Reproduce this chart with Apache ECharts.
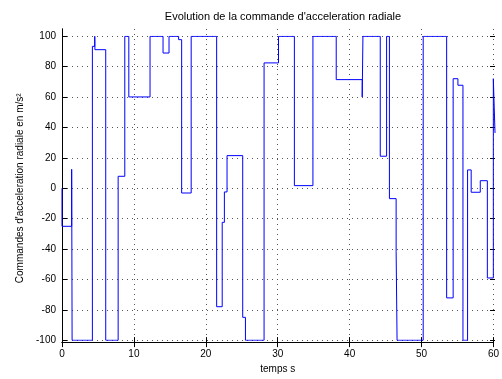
<!DOCTYPE html>
<html>
<head>
<meta charset="utf-8">
<script src="https://cdn.jsdelivr.net/npm/echarts@6/dist/echarts.min.js"></script>
<style>
	html, body { margin: 0; padding: 0; background: #fff; }
	#chart { width: 502px; height: 379px; }
</style>
</head>
<body>
<div id="chart"></div>
<script>
// instants de changement de la commande (s) et valeurs (m/s2)
var temps = [0, 0, 1.34, 1.40, 4.21, 4.54, 4.56, 6.06, 7.78, 8.70, 9.26, 12.2, 14.0, 14.83,
	16.16, 16.58, 17.9, 21.43, 22.2, 22.5, 22.87, 25.04, 25.42, 28.0, 30.0, 32.2, 34.77,
	38.0, 41.6, 41.7, 44.1, 44.98, 45.37, 46.3, 46.43, 50.05, 53.3, 54.2, 54.86, 55.56,
	56.2, 56.7, 57.96, 58.94, 59.77, 60];
var commande = [0, -25, 12.5, -100, 93.4, 100, 91.2, -100, 7.9, 100, 60.1, 100, 89, 100,
	97.8, -3.1, 100, -77.9, -22.4, -2.4, 21.5, -84.9, -100, 82.5, 100, 1.75, 100,
	71.5, 60.1, 100, 21.1, 100, -6.8, -41.4, -100, 100, -72.1, 72.1, 67.8, -100,
	12.1, -2.6, 5.0, -59, 72.1, 36.4];
var xTicks = [0, 60, 10];
var yTicks = [-100, 100, 20];

var myChart = echarts.init(document.getElementById('chart'));
var police = 'Liberation Sans, Arial, sans-serif';
var grille = { show: true, lineStyle: { color: '#555', width: 1, type: [1, 4] } };
var points = temps.map(function(t, i) { return [t, commande[i]]; });

var option = {
	animation: false,
	textStyle: { fontFamily: police },
	title: {
		text: "Evolution de la commande d'acceleration radiale",
		left: 278, top: 6, textAlign: 'center',
		textStyle: { fontSize: 11, fontWeight: 'normal', color: '#000', fontFamily: police }
	},
	grid: [
		{ left: 62, right: 7, top: 29, bottom: 32 },      // cadre
		{ left: 62, right: 7, top: 36.3, bottom: 38.7 }   // donnees
	],
	xAxis: [
		{
			gridIndex: 0, type: 'value', position: 'bottom',
			min: xTicks[0], max: xTicks[1], interval: xTicks[2],
			axisLine: { lineStyle: { color: '#000' } },
			axisTick: { inside: true, length: 5, lineStyle: { color: '#000' } },
			axisLabel: { color: '#000', fontSize: 10, margin: 7, fontFamily: police },
			splitLine: grille,
			name: 'temps s', nameLocation: 'middle', nameGap: 20,
			nameTextStyle: { color: '#000', fontSize: 10, fontFamily: police }
		},
		{
			gridIndex: 0, type: 'value', position: 'top',
			min: xTicks[0], max: xTicks[1], interval: xTicks[2],
			axisLine: { lineStyle: { color: '#000' } },
			axisTick: { inside: true, length: 5, lineStyle: { color: '#000' } },
			axisLabel: { show: false },
			splitLine: { show: false }
		},
		{
			gridIndex: 1, type: 'value', min: xTicks[0], max: xTicks[1], show: false
		}
	],
	yAxis: [
		{
			gridIndex: 0, type: 'value', position: 'left', min: 0, max: 1,
			axisLine: { show: true, lineStyle: { color: '#000' } },
			axisTick: { show: false }, axisLabel: { show: false }, splitLine: { show: false }
		},
		{
			gridIndex: 0, type: 'value', position: 'right', min: 0, max: 1,
			axisLine: { show: true, lineStyle: { color: '#000' } },
			axisTick: { show: false }, axisLabel: { show: false }, splitLine: { show: false }
		},
		{
			gridIndex: 1, type: 'value', position: 'left',
			min: yTicks[0], max: yTicks[1], interval: yTicks[2],
			axisLine: { show: false },
			axisTick: { show: true, inside: true, length: 5, lineStyle: { color: '#000' } },
			axisLabel: { color: '#000', fontSize: 10, margin: 6, fontFamily: police },
			splitLine: grille,
			name: "Commandes d'acceleration radiale en m/s\u00b2",
			nameLocation: 'middle', nameGap: 37,
			nameTextStyle: { color: '#000', fontSize: 10, fontFamily: police }
		},
		{
			gridIndex: 1, type: 'value', position: 'right',
			min: yTicks[0], max: yTicks[1], interval: yTicks[2],
			axisLine: { show: false },
			axisTick: { show: true, inside: true, length: 5, lineStyle: { color: '#000' } },
			axisLabel: { show: false },
			splitLine: { show: false }
		}
	],
	series: [
		{
			type: 'line', xAxisIndex: 2, yAxisIndex: 2,
			step: 'end', showSymbol: false, symbol: 'none',
			lineStyle: { color: '#0000ff', width: 1 },
			data: points
		}
	]
};
myChart.setOption(option);
</script>
</body>
</html>
